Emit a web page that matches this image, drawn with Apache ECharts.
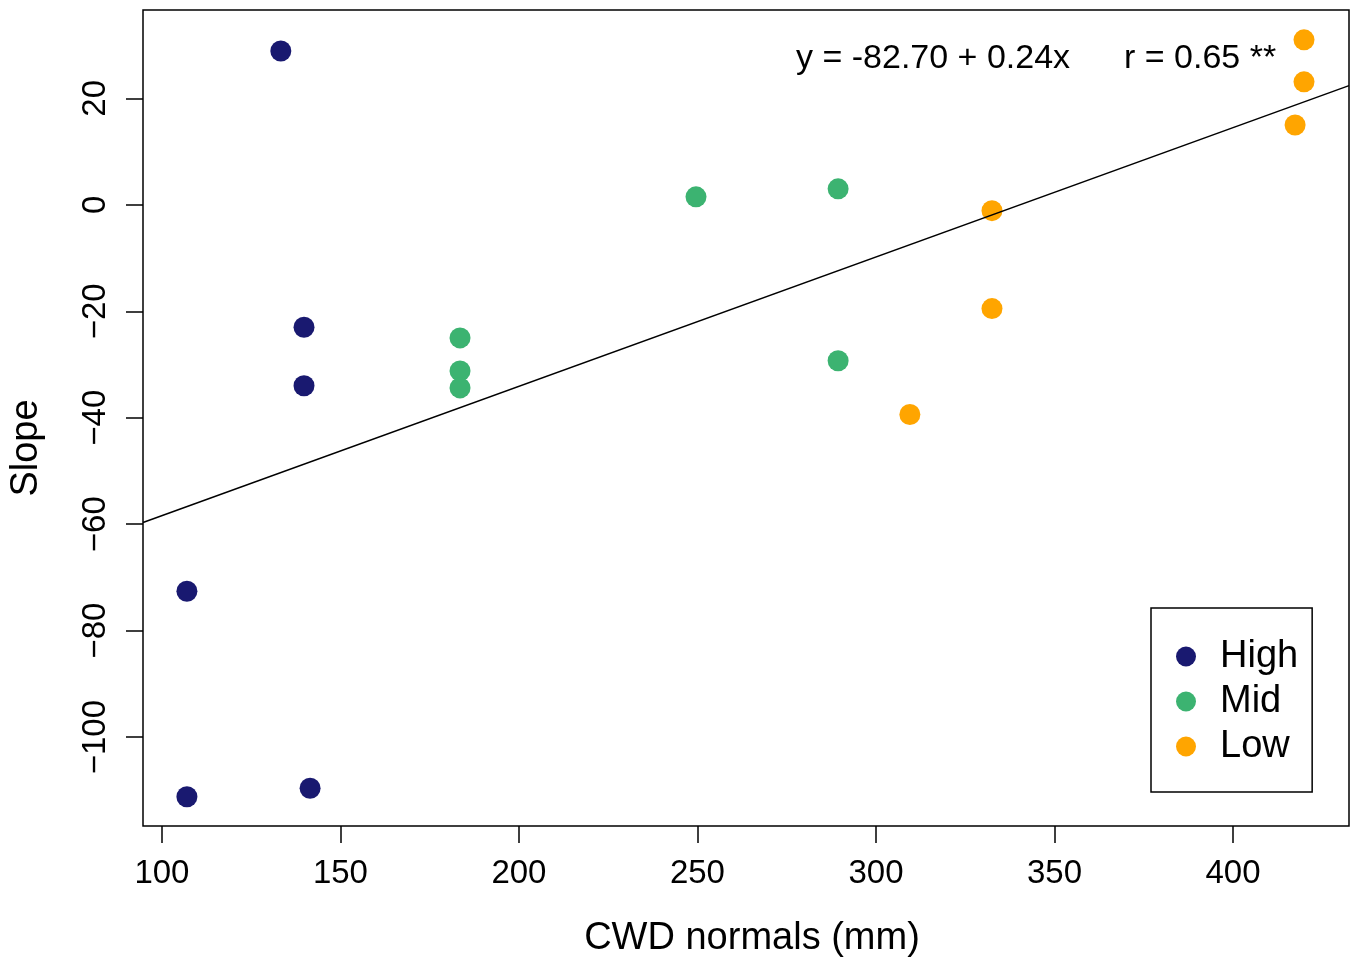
<!DOCTYPE html>
<html>
<head>
<meta charset="utf-8">
<title>Slope vs CWD normals</title>
<script src="https://cdn.jsdelivr.net/npm/echarts@6/dist/echarts.min.js"></script>
<style>
  html, body { margin: 0; padding: 0; background: #ffffff; }
  #chart { width: 1352px; height: 961px; }
</style>
</head>
<body>
<div id="chart"></div>
<script>
// Site groups and their (CWD normal, slope) observations
const groupNames = ['High', 'Mid', 'Low'];
const groupColors = ['#191970', '#3cb371', '#ffa500'];

const highCWD   = [133.3, 139.8, 139.8, 107.0, 107.0, 141.5];
const highSlope = [28.9, -23.0, -34.0, -72.6, -111.2, -109.6];

const midCWD    = [183.5, 183.5, 183.5, 249.6, 289.4, 289.4];
const midSlope  = [-25.0, -31.2, -34.4, 1.5, 3.0, -29.3];

const lowCWD    = [332.5, 332.5, 309.5, 419.9, 419.9, 417.4];
const lowSlope  = [-1.1, -19.5, -39.4, 31.0, 23.1, 15.0];

// Fitted regression: slope = intercept + coef * CWD (printed to 2 decimals)
const intercept = -82.70;
const coef = 0.243;
const rValue = 0.65;
const signif = '**';

// Axis extents and tick positions
const xMin = 94.7, xMax = 432.5;
const yMin = -116.7, yMax = 36.6;
const xTicks = [100, 150, 200, 250, 300, 350, 400];
const yTicks = [-100, -80, -60, -40, -20, 0, 20];

const FONT = '"Liberation Sans", Arial, Helvetica, sans-serif';

const pairs = (xs, ys) => xs.map((x, i) => [x, ys[i]]);
const groupData = [pairs(highCWD, highSlope), pairs(midCWD, midSlope), pairs(lowCWD, lowSlope)];

const scatterSeries = groupNames.map((name, i) => ({
  name: name,
  type: 'scatter',
  data: groupData[i],
  symbol: 'circle',
  symbolSize: 21,
  itemStyle: { color: groupColors[i], opacity: 1 },
  z: 2
}));

const fitLine = {
  name: 'fit',
  type: 'line',
  data: [[xMin, intercept + coef * xMin], [xMax, intercept + coef * xMax]],
  symbol: 'none',
  lineStyle: { color: '#000', width: 1.5 },
  silent: true,
  z: 3
};

const chart = echarts.init(document.getElementById('chart'), null, { renderer: 'canvas' });

chart.setOption({
  backgroundColor: '#ffffff',
  animation: false,
  grid: {
    left: 143, right: 3, top: 10, bottom: 135,
    outerBoundsMode: 'none',
    containLabel: false,
    show: true, borderColor: '#000', borderWidth: 1.5, backgroundColor: 'transparent'
  },
  xAxis: {
    type: 'value',
    min: xMin, max: xMax,
    name: 'CWD normals (mm)',
    nameLocation: 'middle',
    nameGap: 94,
    nameTextStyle: { fontFamily: FONT, fontSize: 38, color: '#000', padding: [0, 0, 0, 12] },
    axisLine: { show: false, onZero: false },
    splitLine: { show: false },
    axisTick: {
      show: true, inside: false, length: 17,
      customValues: xTicks,
      lineStyle: { color: '#000', width: 1.5 }
    },
    axisLabel: {
      customValues: xTicks,
      margin: 31,
      fontFamily: FONT, fontSize: 33, color: '#000'
    }
  },
  yAxis: {
    type: 'value',
    min: yMin, max: yMax,
    axisLine: { show: false, onZero: false },
    splitLine: { show: false },
    axisTick: {
      show: true, inside: false, length: 17,
      customValues: yTicks,
      lineStyle: { color: '#000', width: 1.5 }
    },
    axisLabel: {
      customValues: yTicks,
      rotate: 90,
      margin: 31,
      fontFamily: FONT, fontSize: 33, color: '#000',
      formatter: v => String(v).replace('-', '\u2212')
    }
  },
  legend: {
    data: groupNames,
    orient: 'vertical',
    left: 1151, top: 608,
    padding: [26, 14, 23, 25],
    itemGap: 0,
    itemWidth: 20, itemHeight: 20,
    icon: 'circle',
    borderColor: '#000', borderWidth: 1.5,
    backgroundColor: '#fff',
    selectedMode: false,
    textStyle: {
      fontFamily: FONT, fontSize: 38, color: '#000',
      lineHeight: 45, padding: [0, 0, 0, 19]
    }
  },
  graphic: [
    {
      type: 'text', x: 27, y: 448, rotation: Math.PI / 2,
      style: {
        text: 'Slope', fontFamily: FONT, fontSize: 38, fill: '#000',
        align: 'center', verticalAlign: 'middle'
      }
    },
    {
      type: 'text', left: 796, top: 42,
      style: {
        text: 'y = ' + intercept.toFixed(2) + ' + ' + coef.toFixed(2) + 'x',
        fontFamily: FONT, fontSize: 34, fill: '#000'
      }
    },
    {
      type: 'text', left: 1124, top: 42,
      style: {
        text: 'r = ' + rValue.toFixed(2) + ' ' + signif,
        fontFamily: FONT, fontSize: 34, fill: '#000'
      }
    }
  ],
  series: [...scatterSeries, fitLine]
});
</script>
</body>
</html>
